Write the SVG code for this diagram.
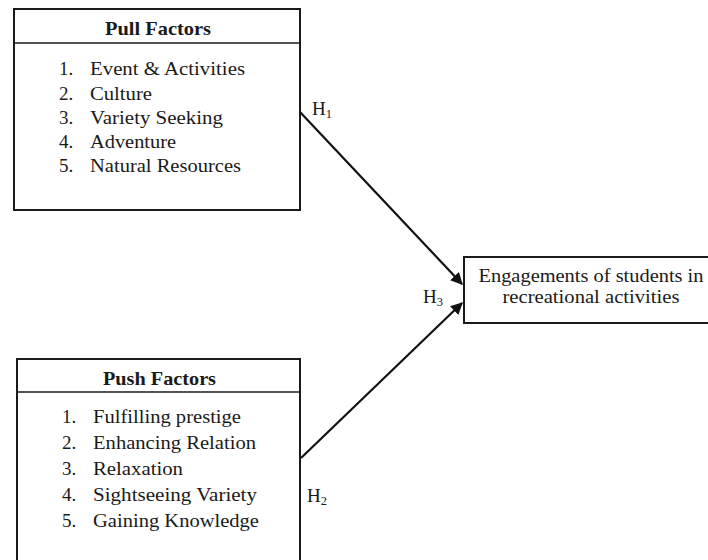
<svg xmlns="http://www.w3.org/2000/svg" width="708" height="560" viewBox="0 0 708 560">
<defs>
<style>
.box{fill:#fff;stroke:#1a1a1a;stroke-width:2}
.div{stroke:#1a1a1a;stroke-width:1.3}
text{font-family:"Liberation Serif","Times New Roman",serif;font-size:19px;fill:#1a1a1a}
.t{font-weight:bold;text-anchor:middle}
.c{text-anchor:middle}
.conn{stroke:#111;stroke-width:2.2;fill:none;marker-end:url(#arr)}
.sub{font-size:12.5px}
</style>
<marker id="arr" viewBox="0 0 10 10" refX="9" refY="5" markerWidth="5.5" markerHeight="5.5" orient="auto" markerUnits="strokeWidth">
<path d="M0,0 L10,5 L0,10 Z" fill="#111"/>
</marker>
</defs>
<rect width="708" height="560" fill="#fff"/>
<g id="pull">
<rect class="box" x="14" y="9" width="286" height="201"/>
<line class="div" x1="14" y1="43" x2="300" y2="43"/>
<text class="t" x="158" y="35" textLength="106" lengthAdjust="spacingAndGlyphs">Pull Factors</text>
<text x="59" y="75">1.</text><text x="90" y="75" textLength="155" lengthAdjust="spacingAndGlyphs">Event &amp; Activities</text>
<text x="59" y="100">2.</text><text x="90" y="100" textLength="62" lengthAdjust="spacingAndGlyphs">Culture</text>
<text x="59" y="124">3.</text><text x="90" y="124" textLength="133" lengthAdjust="spacingAndGlyphs">Variety Seeking</text>
<text x="59" y="148">4.</text><text x="90" y="148" textLength="86" lengthAdjust="spacingAndGlyphs">Adventure</text>
<text x="59" y="172">5.</text><text x="90" y="172" textLength="151" lengthAdjust="spacingAndGlyphs">Natural Resources</text>
</g>
<g id="push">
<rect class="box" x="17" y="359" width="283" height="215"/>
<line class="div" x1="17" y1="392" x2="300" y2="392"/>
<text class="t" x="159.5" y="385" textLength="113" lengthAdjust="spacingAndGlyphs">Push Factors</text>
<text x="62" y="423">1.</text><text x="93" y="423" textLength="148" lengthAdjust="spacingAndGlyphs">Fulfilling prestige</text>
<text x="62" y="449">2.</text><text x="93" y="449" textLength="163" lengthAdjust="spacingAndGlyphs">Enhancing Relation</text>
<text x="62" y="475">3.</text><text x="93" y="475" textLength="90" lengthAdjust="spacingAndGlyphs">Relaxation</text>
<text x="62" y="501">4.</text><text x="93" y="501" textLength="164" lengthAdjust="spacingAndGlyphs">Sightseeing Variety</text>
<text x="62" y="527">5.</text><text x="93" y="527" textLength="166" lengthAdjust="spacingAndGlyphs">Gaining Knowledge</text>
</g>
<g id="engagement">
<rect class="box" x="464" y="257" width="250" height="66"/>
<text class="c" x="591" y="282" textLength="225" lengthAdjust="spacingAndGlyphs">Engagements of students in</text>
<text class="c" x="591" y="303" textLength="177" lengthAdjust="spacingAndGlyphs">recreational activities</text>
</g>
<g id="connectors">
<line class="conn" x1="300" y1="112" x2="462" y2="284"/>
<line class="conn" x1="301" y1="458" x2="462" y2="303"/>
<text x="312" y="115">H<tspan class="sub" dy="3">1</tspan></text>
<text x="423" y="303">H<tspan class="sub" dy="3">3</tspan></text>
<text x="307" y="502">H<tspan class="sub" dy="3">2</tspan></text>
</g>
</svg>
